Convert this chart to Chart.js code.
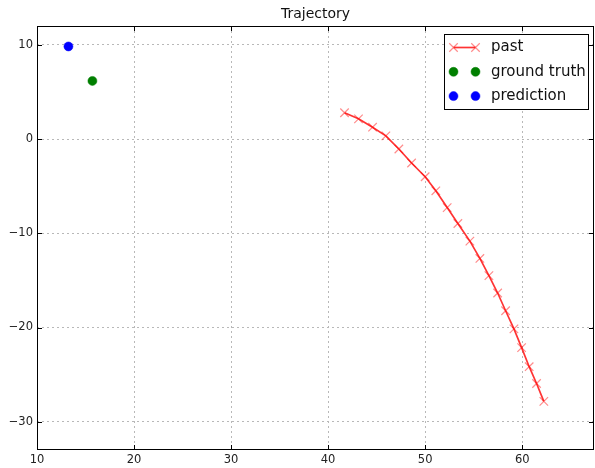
<!DOCTYPE html>
<html>
<head>
<meta charset="utf-8">
<script src="https://cdn.jsdelivr.net/npm/chart.js@4.4.0/dist/chart.umd.min.js"></script>
<style>
  html, body { margin: 0; padding: 0; background: #fff; }
  canvas { display: block; }
</style>
</head>
<body>
<canvas id="myChart" width="595" height="468"></canvas>
<script>
// data
var pastX = [41.69, 43.13, 44.58, 45.95, 47.29, 48.60, 50.00, 51.10, 52.27, 53.37,
             54.61, 55.64, 56.57, 57.47, 58.29, 59.15, 59.94, 60.72, 61.48, 62.23];
var pastY = [2.79, 2.15, 1.26, 0.34, -1.05, -2.54, -4.00, -5.49, -7.27, -8.96,
             -10.83, -12.67, -14.49, -16.34, -18.22, -20.14, -22.13, -24.16, -25.94, -27.84];
var truthX = [15.71];
var truthY = [6.17];
var predX = [13.24];
var predY = [9.83];
var seriesLabels = ['past', 'ground truth', 'prediction'];
var chartTitle = 'Trajectory';
var xTicks = [10, 20, 30, 40, 50, 60];
var yTicks = [-30, -20, -10, 0, 10];
var xRange = [10, 67.4];
var yRange = [-33, 12];

function toPoints(xs, ys) {
    return xs.map(function (x, i) { return { x: x, y: ys[i] }; });
}
function fmt(v) {
    return v < 0 ? '\u2212' + Math.abs(v) : '' + v;
}

const FONT = 'DejaVu Sans';

// frame, inward ticks, title and matplotlib-like legend
var framePlugin = {
    id: 'frame',
    afterDraw: function (chart) {
        const c = chart.ctx;
        const a = chart.chartArea;
        const xs = chart.scales.x, ys = chart.scales.y;
        c.save();
        c.strokeStyle = '#000';
        c.lineWidth = 1;
        c.setLineDash([]);
        c.strokeRect(a.left + 0.5, a.top + 0.5, a.right - a.left - 1, a.bottom - a.top - 1);
        // inward ticks
        c.beginPath();
        xTicks.forEach(function (v) {
            var px = Math.round(xs.getPixelForValue(v)) + 0.5;
            c.moveTo(px, a.bottom); c.lineTo(px, a.bottom - 5);
            c.moveTo(px, a.top); c.lineTo(px, a.top + 5);
        });
        yTicks.forEach(function (v) {
            var py = Math.round(ys.getPixelForValue(v)) + 0.5;
            c.moveTo(a.left, py); c.lineTo(a.left + 5, py);
            c.moveTo(a.right, py); c.lineTo(a.right - 5, py);
        });
        c.stroke();

        // title
        c.fillStyle = '#111';
        c.font = '14px "' + FONT + '"';
        c.textAlign = 'center';
        c.textBaseline = 'middle';
        c.fillText(chartTitle, (a.left + a.right) / 2, 14);

        // legend
        var bw = 144, bh = 75;
        var bx = a.right - 6 - bw, by = a.top + 8;
        c.fillStyle = '#fff';
        c.fillRect(bx + 0.5, by + 0.5, bw, bh);
        c.strokeStyle = '#000';
        c.strokeRect(bx + 0.5, by + 0.5, bw, bh);
        c.font = '15px "' + FONT + '"';
        c.textAlign = 'left';
        chart.data.datasets.forEach(function (ds, i) {
            var ry = by + 13.5 + i * 24.3;
            var m1 = bx + 9.5, m2 = bx + 31.5;
            if (ds.showLine) {
                c.strokeStyle = ds.borderColor;
                c.lineWidth = ds.borderWidth;
                c.beginPath(); c.moveTo(m1, ry); c.lineTo(m2, ry); c.stroke();
            }
            [m1, m2].forEach(function (mx) {
                c.strokeStyle = ds.pointBorderColor;
                c.fillStyle = ds.pointBackgroundColor;
                c.lineWidth = ds.pointBorderWidth;
                Chart.helpers.drawPoint(c, {
                    pointStyle: ds.pointStyle, radius: ds.pointRadius,
                    rotation: 0, borderWidth: ds.pointBorderWidth
                }, mx, ry);
            });
            c.fillStyle = '#111';
            c.textBaseline = 'middle';
            c.fillText(ds.label, bx + 47, ry);
        });
        c.restore();
    }
};

const ctx = document.getElementById('myChart').getContext('2d');
var myChart = new Chart(ctx, {
    type: 'scatter',
    data: {
        datasets: [{
            label: seriesLabels[0],
            data: toPoints(pastX, pastY),
            showLine: true,
            borderColor: 'rgba(255,0,0,0.8)',
            borderWidth: 1.7,
            pointStyle: 'crossRot',
            pointRadius: 6,
            pointBorderColor: 'rgba(255,0,0,0.45)',
            pointBackgroundColor: 'rgba(0,0,0,0)',
            pointBorderWidth: 1.2
        }, {
            label: seriesLabels[1],
            data: toPoints(truthX, truthY),
            pointStyle: 'circle',
            pointRadius: 4.5,
            pointBorderColor: '#007f00',
            pointBackgroundColor: '#007f00',
            pointBorderWidth: 0.5
        }, {
            label: seriesLabels[2],
            data: toPoints(predX, predY),
            pointStyle: 'circle',
            pointRadius: 4.5,
            pointBorderColor: '#0000ff',
            pointBackgroundColor: '#0000ff',
            pointBorderWidth: 0.5
        }]
    },
    options: {
        responsive: false,
        animation: false,
        devicePixelRatio: 1,
        layout: { autoPadding: false, padding: { top: 26, right: 1, left: 0, bottom: 0 } },
        plugins: {
            legend: { display: false },
            title: { display: false },
            tooltip: { enabled: false }
        },
        scales: {
            x: {
                type: 'linear',
                min: xRange[0],
                max: xRange[1],
                afterBuildTicks: function (s) { s.ticks = xTicks.map(function (v) { return { value: v }; }); },
                afterFit: function (s) { s.height = 18; s.paddingLeft = 0; s.paddingRight = 0; },
                grid: { color: '#b8b8b8', lineWidth: 1, drawTicks: false },
                border: { display: false, dash: [2, 3] },
                ticks: {
                    font: { family: FONT, size: 11.5 },
                    color: '#222',
                    padding: 3,
                    maxRotation: 0,
                    callback: fmt
                }
            },
            y: {
                type: 'linear',
                min: yRange[0],
                max: yRange[1],
                afterBuildTicks: function (s) { s.ticks = yTicks.map(function (v) { return { value: v }; }); },
                afterFit: function (s) { s.width = 37; s.paddingTop = 0; s.paddingBottom = 0; },
                grid: { color: '#b8b8b8', lineWidth: 1, drawTicks: false },
                border: { display: false, dash: [2, 3] },
                ticks: {
                    font: { family: FONT, size: 11.5 },
                    color: '#222',
                    padding: 4,
                    callback: fmt
                }
            }
        }
    },
    plugins: [framePlugin]
});
</script>
</body>
</html>
